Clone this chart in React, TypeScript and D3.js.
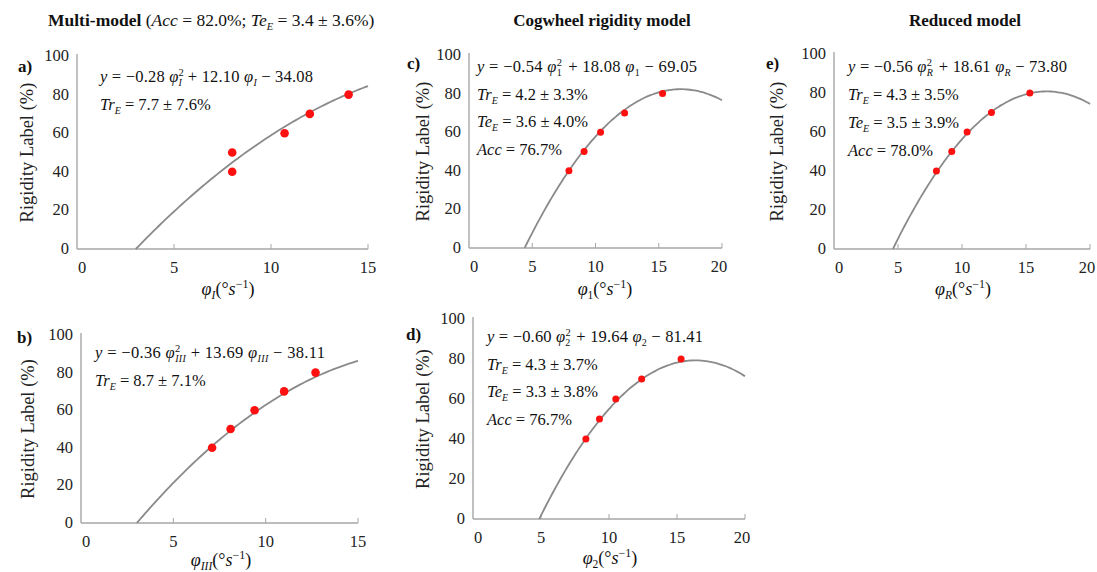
import * as d3 from "d3";

// ---- data ----
const panelIds = ["a", "b", "c", "d", "e"];

const pointsAX = [8.0, 8.0, 10.7, 12.0, 14.0];
const pointsAY = [50, 40, 60, 70, 80];
const pointsBX = [7.1, 8.1, 9.4, 11.0, 12.7];
const pointsBY = [40, 50, 60, 70, 80];
const pointsCX = [7.9, 9.1, 10.4, 12.3, 15.3];
const pointsCY = [40, 50, 60, 70, 80];
const pointsDX = [8.3, 9.3, 10.5, 12.4, 15.3];
const pointsDY = [40, 50, 60, 70, 80];
const pointsEX = [8.0, 9.2, 10.4, 12.3, 15.3];
const pointsEY = [40, 50, 60, 70, 80];

// fitted quadratic y = a x^2 + b x + c
const coefA = [-0.28, 12.1, -34.08];
const coefB = [-0.36, 13.69, -38.11];
const coefC = [-0.54, 18.08, -69.05];
const coefD = [-0.6, 19.64, -81.41];
const coefE = [-0.56, 18.61, -73.8];

const yTicks = [0, 20, 40, 60, 80, 100];
const xTicks15 = [0, 5, 10, 15];
const xTicks20 = [0, 5, 10, 15, 20];

const subs = ["I", "III", "1", "2", "R"];
const trainErr = ["7.7 ± 7.6%", "8.7 ± 7.1%", "4.2 ± 3.3%", "4.3 ± 3.7%", "4.3 ± 3.5%"];
const testErr = [null, null, "3.6 ± 4.0%", "3.3 ± 3.8%", "3.5 ± 3.9%"];
const accs = [null, null, "76.7%", "76.7%", "78.0%"];
const eqText = [
  ["−0.28", "+ 12.10", "− 34.08"],
  ["−0.36", "+ 13.69", "− 38.11"],
  ["−0.54", "+ 18.08", "− 69.05"],
  ["−0.60", "+ 19.64", "− 81.41"],
  ["−0.56", "+ 18.61", "− 73.80"],
];

// ---- layout (pixel boxes of each plot) ----
const boxes = [
  { x0: 77, x1: 368, y0: 249, y1: 56, xmax: 15, eqX: 100, eqY: 82, lh: 28, eqW: 213, tag: [18, 72], yt: 27, xt: [228, 295] },
  { x0: 81, x1: 358, y0: 523, y1: 335, xmax: 15, eqX: 95, eqY: 358, lh: 28, eqW: 230, tag: [17, 343], yt: 28, xt: [221, 566] },
  { x0: 469, x1: 722, y0: 248, y1: 55, xmax: 20, eqX: 477, eqY: 72, lh: 27.5, eqW: 220, tag: [407, 69], yt: 423, xt: [605, 295] },
  { x0: 473, x1: 745, y0: 519, y1: 319, xmax: 20, eqX: 487, eqY: 342, lh: 27.5, eqW: 216, tag: [406, 340], yt: 423, xt: [610, 564] },
  { x0: 834, x1: 1090, y0: 249, y1: 54, xmax: 20, eqX: 848, eqY: 72, lh: 28, eqW: 219, tag: [766, 69], yt: 777, xt: [963, 295] },
];

const pointSets = [
  [pointsAX, pointsAY],
  [pointsBX, pointsBY],
  [pointsCX, pointsCY],
  [pointsDX, pointsDY],
  [pointsEX, pointsEY],
];
const coefs = [coefA, coefB, coefC, coefD, coefE];

const serif = "Liberation Serif";
const axisGray = "#a6a6a6";

const isDigit = (s: string) => /^[0-9]+$/.test(s);

function Phi({ sub, sup }: { sub: string; sup?: string }) {
  // φ with subscript (and optional stacked superscript)
  const subStyle = isDigit(sub) ? "normal" : "italic";
  return (
    <>
      <tspan fontStyle="italic">φ</tspan>
      {sup ? (
        <>
          <tspan fontSize={10.5} dy={-6}>{sup}</tspan>
          <tspan fontSize={10} fontStyle={subStyle} dx={-5.5} dy={10}>{sub}</tspan>
          <tspan dy={-4} dx={sub.length > 1 ? 0 : 1.5}>{" "}</tspan>
        </>
      ) : (
        <>
          <tspan fontSize={10} fontStyle={subStyle} dy={4}>{sub}</tspan>
          <tspan dy={-4}>{" "}</tspan>
        </>
      )}
    </>
  );
}

function Panel({ i }: { i: number }) {
  const b = boxes[i];
  const [xs, ys] = pointSets[i];
  const [qa, qb, qc] = coefs[i];
  const x = d3.scaleLinear().domain([0, b.xmax]).range([b.x0, b.x1]);
  const y = d3.scaleLinear().domain([0, 100]).range([b.y0, b.y1]);
  const xTicks = b.xmax === 15 ? xTicks15 : xTicks20;

  // start of the fitted curve where it crosses y = 0
  const root = (-qb + Math.sqrt(qb * qb - 4 * qa * qc)) / (2 * qa);
  const f = (v: number) => qa * v * v + qb * v + qc;
  const samples = d3.range(root, b.xmax + 0.001, (b.xmax - root) / 80);
  const line = d3
    .line<number>()
    .x((v) => x(v))
    .y((v) => y(Math.max(0, f(v))))
    .curve(d3.curveMonotoneX);

  const sub = subs[i];
  const [c2, c1, c0] = eqText[i];
  const fs = 16.5;
  const r = i === 0 || i === 1 ? 4.3 : 3.5;

  return (
    <g>
      {/* axes */}
      <line x1={b.x0} x2={b.x0} y1={b.y1 - 2} y2={b.y0} stroke={axisGray} strokeWidth={1.4} />
      <line x1={b.x0} x2={b.x1} y1={b.y0} y2={b.y0} stroke={axisGray} strokeWidth={1.4} />
      {xTicks.slice(1).map((t) => (
        <line key={t} x1={x(t)} x2={x(t)} y1={b.y0} y2={b.y0 - 5} stroke={axisGray} strokeWidth={1} />
      ))}
      {xTicks.map((t) => (
        <text
          key={t}
          x={x(t) + (t === 0 ? 5 : t === b.xmax && b.xmax === 20 ? -3 : 0)}
          y={b.y0 + 24}
          textAnchor="middle"
          fontFamily={serif}
          fontSize={16.5}
          fill="#222"
        >
          {t}
        </text>
      ))}
      {yTicks.map((t) => (
        <text key={t} x={b.x0 - 8} y={y(t) + 5} textAnchor="end" fontFamily={serif} fontSize={16.5} fill="#222">
          {t}
        </text>
      ))}
      <text
        transform={`translate(${b.yt},${(b.y0 + b.y1) / 2}) rotate(-90)`}
        textAnchor="middle"
        dy={6}
        fontFamily={serif}
        fontSize={18.5}
        fill="#222"
      >
        Rigidity Label (%)
      </text>
      <text x={b.tag[0]} y={b.tag[1]} fontFamily={serif} fontWeight="bold" fontSize={17} fill="#111">
        {panelIds[i]})
      </text>
      {/* x title */}
      <text x={b.xt[0]} y={b.xt[1]} textAnchor="middle" fontFamily={serif} fontSize={18} fill="#111">
        <tspan fontStyle="italic">φ</tspan>
        <tspan fontSize={11.5} fontStyle={isDigit(sub) ? "normal" : "italic"} dy={4}>{sub}</tspan>
        <tspan dy={-4}>(°</tspan>
        <tspan fontStyle="italic">s</tspan>
        <tspan fontSize={12} dy={-7}>−1</tspan>
        <tspan dy={7}>)</tspan>
      </text>

      {/* fitted curve */}
      <path d={line(samples) ?? ""} fill="none" stroke="#8a8a8a" strokeWidth={1.8} />
      {xs.map((v, k) => (
        <circle key={k} cx={x(v)} cy={y(ys[k])} r={r} fill="#ff1010" />
      ))}

      {/* annotation */}
      <g fontFamily={serif} fontSize={fs} fill="#111">
        <text x={b.eqX} y={b.eqY} textLength={b.eqW} lengthAdjust="spacing">
          <tspan fontStyle="italic">y</tspan>
          <tspan> = {c2} </tspan>
          <Phi sub={sub} sup="2" />
          <tspan>{c1} </tspan>
          <Phi sub={sub} />
          <tspan>{c0}</tspan>
        </text>
        <text x={b.eqX} y={b.eqY + b.lh}>
          <tspan fontStyle="italic">Tr</tspan>
          <tspan fontSize={10} fontStyle="italic" dy={4}>E</tspan>
          <tspan dy={-4}> = {trainErr[i]}</tspan>
        </text>
        {testErr[i] && (
          <text x={b.eqX} y={b.eqY + 2 * b.lh}>
            <tspan fontStyle="italic">Te</tspan>
            <tspan fontSize={10} fontStyle="italic" dy={4}>E</tspan>
            <tspan dy={-4}> = {testErr[i]}</tspan>
          </text>
        )}
        {accs[i] && (
          <text x={b.eqX} y={b.eqY + 3 * b.lh}>
            <tspan fontStyle="italic">Acc</tspan>
            <tspan> = {accs[i]}</tspan>
          </text>
        )}
      </g>
    </g>
  );
}

export default function App() {
  return (
    <svg width={1097} height={572} style={{ position: "absolute", left: 0, top: 0, background: "#fff" }}>
      <rect width={1097} height={572} fill="#fff" />
      <text x={48} y={26} fontFamily={serif} fontSize={17.5} fill="#111">
        <tspan fontWeight="bold">Multi-model </tspan>
        <tspan>
          (<tspan fontStyle="italic">Acc</tspan> = 82.0%; <tspan fontStyle="italic">Te</tspan>
          <tspan fontSize={10.5} fontStyle="italic" dy={4}>E</tspan>
          <tspan dy={-4}> = 3.4 ± 3.6%)</tspan>
        </tspan>
      </text>
      <text x={602} y={26} textAnchor="middle" fontFamily={serif} fontWeight="bold" fontSize={17} fill="#111">
        Cogwheel rigidity model
      </text>
      <text x={965} y={26} textAnchor="middle" fontFamily={serif} fontWeight="bold" fontSize={17} fill="#111">
        Reduced model
      </text>
      {panelIds.map((_, i) => (
        <Panel key={i} i={i} />
      ))}
    </svg>
  );
}
